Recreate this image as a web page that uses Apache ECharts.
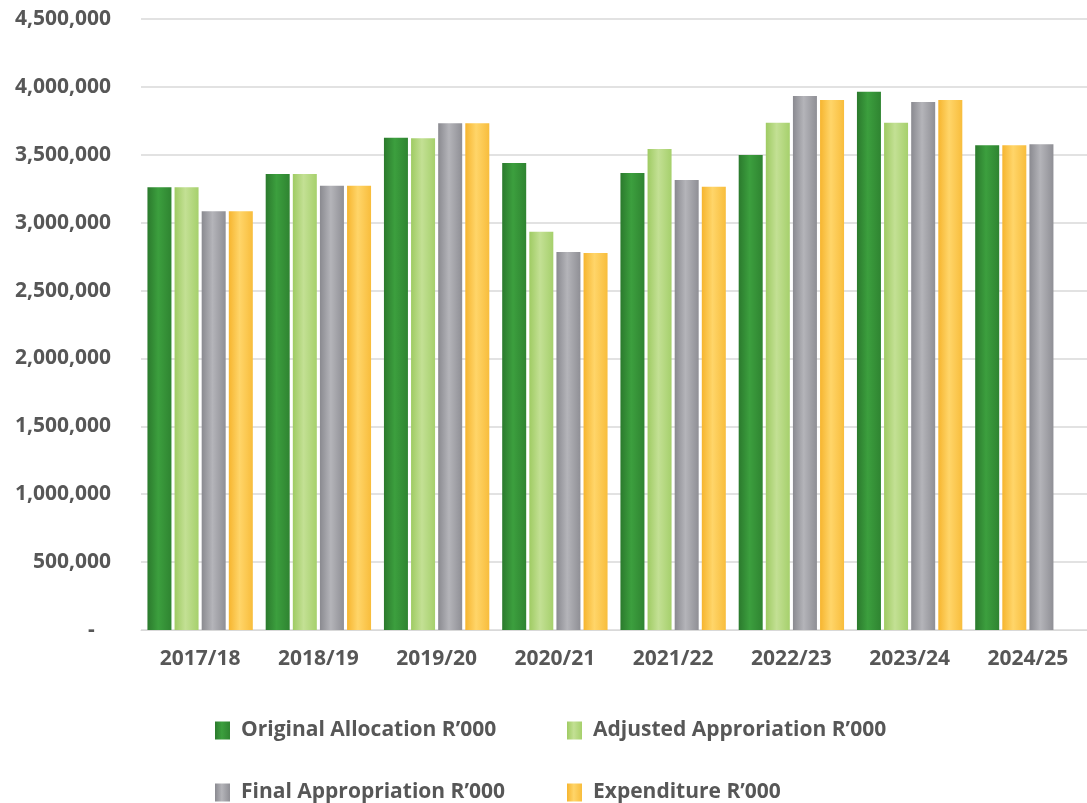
<!DOCTYPE html>
<html>
<head>
<meta charset="utf-8">
<script src="https://cdn.jsdelivr.net/npm/echarts@6/dist/echarts.min.js"></script>
<style>
  html, body { margin: 0; padding: 0; background: #fff; }
  #chart { width: 1087px; height: 803px; }
</style>
</head>
<body>
<div id="chart"></div>
<script>
var years = ['2017/18', '2018/19', '2019/20', '2020/21', '2021/22', '2022/23', '2023/24', '2024/25'];
var original = [3260000, 3358000, 3625000, 3439000, 3365000, 3498000, 3965000, 3570000];
var adjusted = [3260000, 3358000, 3622000, 2933000, 3542000, 3735000, 3735000, 3570000];
var finalApp = [3085000, 3272000, 3733000, 2784000, 3314000, 3932000, 3888000, 3578000];
var expenditure = [3085000, 3272000, 3733000, 2776000, 3264000, 3903000, 3903000, null];
var yTicks = { min: 0, max: 4500000, interval: 500000 };

var names = ['Original Allocation R\u2019000', 'Adjusted Approriation R\u2019000', 'Final Appropriation R\u2019000', 'Expenditure R\u2019000'];

function grad(a, b, c) {
    return new echarts.graphic.LinearGradient(0, 0, 1, 0, [
        { offset: 0, color: a },
        { offset: 0.45, color: b },
        { offset: 1, color: c }
    ]);
}
var colGreen = grad('#2b7a2d', '#3c9f3e', '#2f8431');
var colLight = grad('#9fcb63', '#c3e094', '#a6d06c');
var colGray = grad('#8a8a90', '#b4b4b9', '#8f8f95');
var colYellow = grad('#f6b52f', '#ffd569', '#f8bd3c');

// last adjusted bar is drawn in the expenditure colour, as in the source
var adjustedData = adjusted.map(function(v, i) {
    if (i === adjusted.length - 1) return { value: v, itemStyle: { color: colYellow } };
    return v;
});

var chart = echarts.init(document.getElementById('chart'));

var txt = { color: '#575757', fontWeight: 'bold', fontSize: 21, fontFamily: '"Open Sans", sans-serif' };

function leg(name, left, top) {
    return {
        data: [name], left: left, top: top, itemWidth: 15, itemHeight: 18,
        icon: 'rect', selectedMode: false,
        textStyle: Object.assign({ padding: [0, 0, 0, 6] }, txt)
    };
}

chart.setOption({
    animation: false,
    color: [colGreen, colLight, colGray, colYellow],
    grid: { left: 141, right: 0, top: 19, bottom: 173 },
    legend: [
        leg(names[0], 210, 715),
        leg(names[1], 562, 715),
        leg(names[2], 210, 777),
        leg(names[3], 562, 777)
    ],
    xAxis: {
        type: 'category',
        data: years,
        axisLine: { lineStyle: { color: '#d9d9d9', width: 1 } },
        axisTick: { show: false },
        axisLabel: Object.assign({ margin: 19 }, txt)
    },
    yAxis: {
        type: 'value',
        min: yTicks.min, max: yTicks.max, interval: yTicks.interval,
        axisLine: { show: false },
        axisTick: { show: false },
        splitLine: { lineStyle: { color: '#d9d9d9', width: 1.5 } },
        axisLabel: Object.assign({
            margin: 30,
            formatter: function(v) {
                if (v === 0) return '-   ';
                return v.toLocaleString('en-US');
            }
        }, txt)
    },
    series: [
        { name: names[0], type: 'bar', data: original, barWidth: 24, barGap: '13%' },
        { name: names[1], type: 'bar', data: adjustedData, barWidth: 24, barGap: '13%' },
        { name: names[2], type: 'bar', data: finalApp, barWidth: 24, barGap: '13%' },
        { name: names[3], type: 'bar', data: expenditure, barWidth: 24, barGap: '13%' }
    ]
});
</script>
</body>
</html>
